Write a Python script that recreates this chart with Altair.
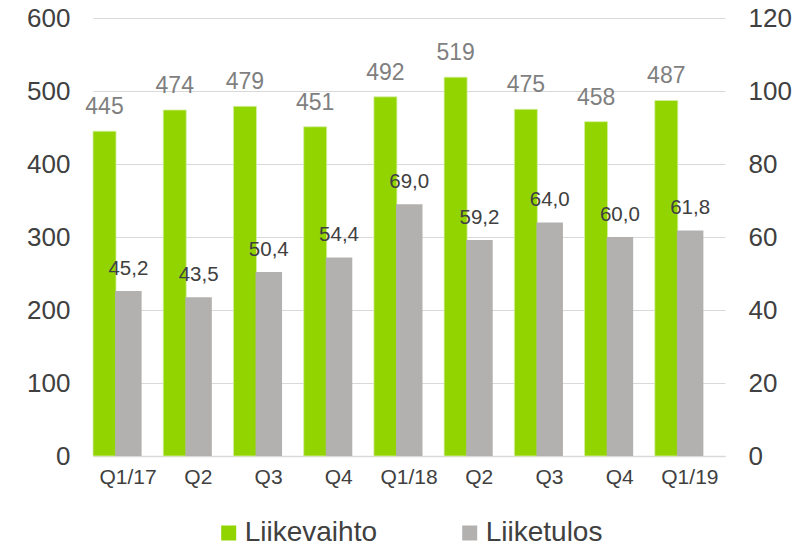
import altair as alt
import pandas as pd

quarters = ["Q1/17", "Q2/17", "Q3/17", "Q4/17", "Q1/18", "Q2/18", "Q3/18", "Q4/18", "Q1/19"]
tick_labels = ["Q1/17", "Q2", "Q3", "Q4", "Q1/18", "Q2", "Q3", "Q4", "Q1/19"]
liikevaihto = [445, 474, 479, 451, 492, 519, 475, 458, 487]
liiketulos = [45.2, 43.5, 50.4, 54.4, 69.0, 59.2, 64.0, 60.0, 61.8]
series = ["Liikevaihto", "Liiketulos"]
colors = ["#92d400", "#b2b1af"]
left_ticks = [0, 100, 200, 300, 400, 500, 600]
right_ticks = [0, 20, 40, 60, 80, 100, 120]

FONT = "Liberation Sans"

df_lv = pd.DataFrame({"q": quarters, "tick": tick_labels, "v": liikevaihto, "series": series[0]})
df_lt = pd.DataFrame({"q": quarters, "tick": tick_labels, "v": liiketulos, "series": series[1]})

x_scale = alt.Scale(domain=quarters, paddingInner=0, paddingOuter=0)
x_axis = alt.Axis(
    title=None,
    labelExpr="indexof(datum.value, 'Q1') == 0 ? datum.value : substring(datum.value, 0, 2)",
    labelAngle=0, labelFontSize=21, labelColor="#404040", labelFont=FONT,
    labelPadding=10, ticks=False, tickSize=0, domain=True, domainColor="#d9d9d9",
    domainWidth=1.5, grid=False,
)
x_enc = alt.X("q:N", scale=x_scale, axis=x_axis, sort=quarters)

color_enc = alt.Color(
    "series:N",
    scale=alt.Scale(domain=series, range=colors),
    legend=alt.Legend(
        title=None, orient="none", legendX=121.7, legendY=501,
        direction="horizontal", columns=2, symbolType="square",
        symbolSize=225, symbolStrokeWidth=0, labelFontSize=28,
        labelColor="#404040", labelFont=FONT, labelOffset=2,
        columnPadding=78, padding=0,
    ),
)

GREEN_OFF = -23.6
GREY_OFF = 0.25

left_axis = alt.Axis(
    title=None, orient="left", values=left_ticks, grid=True,
    gridColor="#d9d9d9", gridWidth=1, domain=False, ticks=False,
    tickSize=0, labelFontSize=26, labelColor="#404040", labelFont=FONT,
    labelPadding=23,
)
right_axis = alt.Axis(
    title=None, orient="right", values=right_ticks, grid=False,
    domain=False, ticks=False, tickSize=0, labelFontSize=26,
    labelColor="#404040", labelFont=FONT, labelPadding=23,
)
y_left = alt.Y("v:Q", scale=alt.Scale(domain=[0, 600], nice=False), axis=left_axis)
y_right = alt.Y("v:Q", scale=alt.Scale(domain=[0, 120], nice=False), axis=right_axis)

green_bars = alt.Chart(df_lv).mark_bar(
    width=23, xOffset=GREEN_OFF, stroke="#d6efa6", strokeWidth=0.8
).encode(x=x_enc, y=y_left, color=color_enc)

green_text = alt.Chart(df_lv).mark_text(
    xOffset=GREEN_OFF, dy=-17, baseline="alphabetic", fontSize=23,
    color="#7f7f7f", font=FONT,
).encode(x=x_enc, y=y_left, text=alt.Text("v:Q", format="d"))

grey_bars = alt.Chart(df_lt).mark_bar(
    width=26.5, xOffset=GREY_OFF
).encode(x=x_enc, y=y_right, color=color_enc)

grey_text = alt.Chart(df_lt).transform_calculate(
    lbl="replace(format(datum.v, '.1f'), '.', ',')"
).mark_text(
    xOffset=GREY_OFF, dy=-16, baseline="alphabetic", fontSize=20.5,
    color="#404040", font=FONT,
).encode(x=x_enc, y=y_right, text="lbl:N")

left_layer = alt.layer(green_bars, green_text)
right_layer = alt.layer(grey_bars, grey_text)

chart = alt.layer(left_layer, right_layer).resolve_scale(
    y="independent"
).properties(
    width=632, height=438,
    autosize=alt.AutoSizeParams(type="none"),
    padding={"left": 85, "top": 10, "right": 74, "bottom": 110},
).configure(font=FONT).configure_view(stroke="transparent", strokeWidth=0)

chart.save("out.html", embed_options={"renderer": "svg", "actions": False})
